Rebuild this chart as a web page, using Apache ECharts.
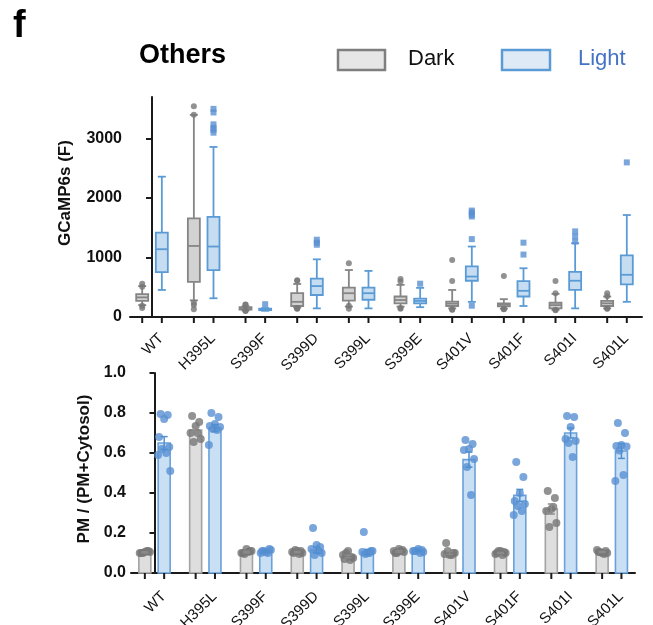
<!DOCTYPE html>
<html><head><meta charset="utf-8">
<script src="https://cdn.jsdelivr.net/npm/echarts@6.0.0/dist/echarts.min.js"></script>
<style>html,body{margin:0;padding:0;background:#fff}#main{width:653px;height:625px}</style>
</head><body><div id="main"></div>
<script>
// ---------- DATA ----------
var categories = ['WT','H395L','S399F','S399D','S399L','S399E','S401V','S401F','S401I','S401L'];

// Top panel: GCaMP6s (F) box plots [min, Q1, median, Q3, max]
var darkBox = [
  [200, 270, 330, 385, 520],
  [280, 590, 1195, 1660, 3400],
  [110, 125, 145, 165, 180],
  [160, 185, 255, 400, 555],
  [175, 275, 400, 495, 790],
  [175, 230, 285, 345, 540],
  [145, 185, 225, 260, 455],
  [140, 180, 205, 230, 300],
  [120, 145, 200, 240, 390],
  [145, 185, 230, 270, 345]
];
var lightBox = [
  [455, 755, 1140, 1420, 2360],
  [315, 790, 1185, 1685, 2860],
  [105, 115, 128, 140, 150],
  [145, 370, 520, 645, 970],
  [145, 290, 400, 495, 775],
  [165, 230, 270, 310, 490],
  [255, 610, 680, 850, 1185],
  [185, 345, 440, 605, 820],
  [145, 455, 610, 760, 1240],
  [255, 550, 710, 1035, 1715]
];
var darkOutliers = [
  [560, 510, 190, 150],
  [3545, 3400, 240, 200, 130],
  [205, 210, 105, 100],
  [610, 620, 145, 140, 150],
  [905, 190, 140],
  [640, 595, 150, 140],
  [960, 605, 120, 125],
  [690, 135, 130],
  [605, 400, 115, 120],
  [400, 350, 140, 145]
];
var lightOutliers = [
  [],
  [3500, 3440, 3240, 3180, 3150, 3100],
  [215],
  [1300, 1250, 1215],
  [],
  [560],
  [1790, 1760, 1720, 1690, 1310, 190],
  [1250, 1050],
  [1440, 1355, 1270],
  [2600]
];
var topTicks = [0, 1000, 2000, 3000];

// Bottom panel: PM / (PM+Cytosol), mean ± SEM with individual points
var darkMean = [0.103, 0.715, 0.105, 0.105, 0.083, 0.108, 0.100, 0.100, 0.320, 0.105];
var darkSem  = [0.003, 0.018, 0.004, 0.003, 0.006, 0.004, 0.007, 0.003, 0.025, 0.003];
var lightMean = [0.650, 0.725, 0.108, 0.115, 0.105, 0.112, 0.567, 0.388, 0.700, 0.610];
var lightSem  = [0.032, 0.017, 0.004, 0.015, 0.013, 0.003, 0.038, 0.030, 0.025, 0.037];
var darkDots = [
  [0.10, 0.11, 0.105, 0.10, 0.105, 0.10, 0.11],
  [0.785, 0.755, 0.735, 0.70, 0.67, 0.655, 0.70],
  [0.10, 0.11, 0.12, 0.10, 0.11, 0.095, 0.105],
  [0.10, 0.11, 0.11, 0.105, 0.10, 0.115, 0.095],
  [0.07, 0.08, 0.11, 0.09, 0.075, 0.10, 0.065],
  [0.10, 0.115, 0.12, 0.11, 0.105, 0.10, 0.11],
  [0.15, 0.10, 0.09, 0.095, 0.10, 0.11, 0.09],
  [0.10, 0.105, 0.11, 0.095, 0.10, 0.11, 0.09],
  [0.41, 0.375, 0.32, 0.31, 0.25, 0.23, 0.33],
  [0.105, 0.11, 0.10, 0.115, 0.10, 0.105, 0.095]
];
var lightDots = [
  [0.795, 0.79, 0.77, 0.68, 0.63, 0.62, 0.60, 0.59, 0.51],
  [0.80, 0.78, 0.745, 0.735, 0.73, 0.72, 0.715, 0.64],
  [0.11, 0.12, 0.105, 0.10, 0.115, 0.11, 0.10],
  [0.225, 0.13, 0.14, 0.12, 0.10, 0.09, 0.11],
  [0.205, 0.11, 0.10, 0.105, 0.11, 0.095, 0.10],
  [0.11, 0.115, 0.12, 0.11, 0.105, 0.11, 0.10],
  [0.665, 0.645, 0.62, 0.615, 0.57, 0.53, 0.39],
  [0.555, 0.48, 0.40, 0.36, 0.345, 0.335, 0.31, 0.29],
  [0.785, 0.78, 0.73, 0.67, 0.66, 0.65, 0.58],
  [0.75, 0.70, 0.64, 0.635, 0.633, 0.613, 0.49, 0.46]
];
var bottomTicks = [0, 0.2, 0.4, 0.6, 0.8, 1.0];

// ---------- STYLE ----------
var FONT = 'Liberation Sans, Arial, Helvetica, sans-serif';
var OFF = 0.19;           // offset of Dark / Light inside a group (axis units)
var JIT = [-0.07, 0.07, 0, -0.1, 0.1, -0.04, 0.04, -0.12, 0.12]; // dot spread pattern
var COL = {
  darkLine: '#858585', darkFill: '#d2d2d2', darkDot: '#777777',
  lightLine: '#5b9bd5', lightFill: '#c6dcf1', lightDot: '#5a90d2',
  barDarkLine: '#a3a3a3', barDarkFill: '#dedede',
  barLightLine: '#6aa1da', barLightFill: '#c9dff4'
};
var idx = categories.map(function (_, i) { return i; });

// ---------- BUILD ----------
function boxRender(color, fill) {
  return function (params, api) {
    var x = api.value(0);
    var c = function (v) { return api.coord([x, v]); };
    var pMin = c(api.value(1)), pQ1 = c(api.value(2)), pMed = c(api.value(3)),
        pQ3 = c(api.value(4)), pMax = c(api.value(5));
    var cx = pMin[0], hw = 6, cw = 4;
    var st = { stroke: color, lineWidth: 1.8, fill: null };
    return { type: 'group', children: [
      { type: 'line', shape: { x1: cx, y1: pMax[1], x2: cx, y2: pQ3[1] }, style: st },
      { type: 'line', shape: { x1: cx, y1: pQ1[1], x2: cx, y2: pMin[1] }, style: st },
      { type: 'line', shape: { x1: cx - cw, y1: pMax[1], x2: cx + cw, y2: pMax[1] }, style: st },
      { type: 'line', shape: { x1: cx - cw, y1: pMin[1], x2: cx + cw, y2: pMin[1] }, style: st },
      { type: 'rect', shape: { x: cx - hw, y: pQ3[1], width: 2 * hw, height: pQ1[1] - pQ3[1] },
        style: { fill: fill, stroke: color, lineWidth: 1.8 } },
      { type: 'line', shape: { x1: cx - hw, y1: pMed[1], x2: cx + hw, y2: pMed[1] }, style: st }
    ]};
  };
}
function barRender(color, fill) {
  return function (params, api) {
    var x = api.value(0);
    var p0 = api.coord([x, 0]), p1 = api.coord([x, api.value(1)]);
    var hw = 6;
    return { type: 'rect', shape: { x: p0[0] - hw, y: p1[1], width: 2 * hw, height: p0[1] - p1[1] },
      style: { fill: fill, stroke: color, lineWidth: 1.6 } };
  };
}
function errRender(color) {
  return function (params, api) {
    var x = api.value(0), m = api.value(1), s = api.value(2);
    var pt = api.coord([x, m + s]), pb = api.coord([x, m - s]);
    var cx = pt[0], cw = 3.5;
    var st = { stroke: color, lineWidth: 1.5, fill: null };
    return { type: 'group', children: [
      { type: 'line', shape: { x1: cx, y1: pt[1], x2: cx, y2: pb[1] }, style: st },
      { type: 'line', shape: { x1: cx - cw, y1: pt[1], x2: cx + cw, y2: pt[1] }, style: st },
      { type: 'line', shape: { x1: cx - cw, y1: pb[1], x2: cx + cw, y2: pb[1] }, style: st }
    ]};
  };
}
function tickRender(params, api) {
  var p = api.coord([api.value(0), 0]);
  return { type: 'line', shape: { x1: p[0], y1: p[1], x2: p[0], y2: p[1] + 6 },
    style: { stroke: '#1a1a1a', lineWidth: 2 } };
}
function boxData(arr, sign) { return arr.map(function (b, i) { return [i + sign * OFF].concat(b); }); }
function outData(arr, sign) {
  var out = [];
  arr.forEach(function (list, i) { list.forEach(function (v) { out.push([i + sign * OFF, v]); }); });
  return out;
}
function dotData(arr, sign) {
  var out = [];
  arr.forEach(function (list, i) { list.forEach(function (v, k) { out.push([i + sign * OFF + JIT[k % JIT.length], v]); }); });
  return out;
}
function barData(means, sems, sign) { return means.map(function (m, i) { return [i + sign * OFF, m, sems[i]]; }); }

var axisLineStyle = { color: '#1a1a1a', width: 2 };
var tickData = [];
idx.forEach(function (i) { tickData.push([i - OFF, 0], [i + OFF, 0]); });
function xAxisDef(gridIndex, min, max, margin) {
  return {
    type: 'value', gridIndex: gridIndex, min: min, max: max,
    axisLine: { show: true, onZero: false, lineStyle: axisLineStyle },
    axisTick: { show: false },
    axisLabel: { show: true, rotate: 45, fontSize: 15, color: '#111', fontFamily: FONT, margin: margin,
      verticalAlign: 'top', lineHeight: 26,
      customValues: idx, formatter: function (v) { return categories[Math.round(v)]; } },
    splitLine: { show: false }
  };
}
function yTitle(text, x, y) {
  return { type: 'text', x: x, y: y, rotation: Math.PI / 2,
    style: { text: text, font: 'bold 17px ' + FONT, fill: '#111', align: 'center', verticalAlign: 'middle' } };
}

var option = {
  backgroundColor: '#fff',
  animation: false,
  textStyle: { fontFamily: FONT },
  grid: [
    { left: 130, right: 11, top: 97, bottom: 308, outerBoundsMode: 'none', containLabel: false },
    { left: 131, right: 18, top: 373, bottom: 52, outerBoundsMode: 'none', containLabel: false }
  ],
  xAxis: [ xAxisDef(0, -0.426, 9.484, 10), xAxisDef(1, -0.4625, 9.457, 12) ],
  yAxis: [
    { type: 'value', gridIndex: 0, min: 0, max: 3700,
      axisLine: { show: true, lineStyle: axisLineStyle },
      axisTick: { show: true, length: 6, lineStyle: axisLineStyle, customValues: topTicks },
      axisLabel: { fontSize: 16, fontWeight: 'bold', color: '#111', fontFamily: FONT, margin: 8,
        customValues: topTicks, formatter: function (v) { return String(v); } },
      splitLine: { show: false } },
    { type: 'value', gridIndex: 1, min: 0, max: 1.0,
      axisLine: { show: true, lineStyle: axisLineStyle },
      axisTick: { show: true, length: 5, lineStyle: axisLineStyle, customValues: bottomTicks },
      axisLabel: { fontSize: 16, fontWeight: 'bold', color: '#111', fontFamily: FONT, margin: 5,
        customValues: bottomTicks, formatter: function (v) { return v.toFixed(1); } },
      splitLine: { show: false } }
  ],
  graphic: [
    { type: 'text', left: 13, top: 8, style: { text: 'f', font: 'bold 38px ' + FONT, fill: '#000' } },
    { type: 'text', left: 139, top: 42, style: { text: 'Others', font: 'bold 27px ' + FONT, fill: '#000' } },
    { type: 'rect', shape: { x: 338, y: 50, width: 47, height: 20 },
      style: { fill: '#e6e6e6', stroke: '#7f7f7f', lineWidth: 2.5 } },
    { type: 'text', left: 408, top: 48, style: { text: 'Dark', font: '22px ' + FONT, fill: '#111' } },
    { type: 'rect', shape: { x: 502, y: 50, width: 48, height: 20 },
      style: { fill: '#deebf7', stroke: '#5b9bd5', lineWidth: 2.5 } },
    { type: 'text', left: 578, top: 48, style: { text: 'Light', font: '22px ' + FONT, fill: '#4472c4' } },
    yTitle('GCaMP6s (F)', 65, 193),
    yTitle('PM / (PM+Cytosol)', 84.5, 469)
  ],
  series: [
    { name: 'Dark', type: 'custom', xAxisIndex: 0, yAxisIndex: 0, clip: false,
      renderItem: boxRender(COL.darkLine, COL.darkFill), encode: { x: 0, y: [1, 2, 3, 4, 5] },
      data: boxData(darkBox, -1), z: 2 },
    { name: 'Light', type: 'custom', xAxisIndex: 0, yAxisIndex: 0, clip: false,
      renderItem: boxRender(COL.lightLine, COL.lightFill), encode: { x: 0, y: [1, 2, 3, 4, 5] },
      data: boxData(lightBox, 1), z: 2 },
    { name: 'Dark outliers', type: 'scatter', xAxisIndex: 0, yAxisIndex: 0, symbol: 'circle', symbolSize: 6,
      itemStyle: { color: COL.darkDot }, data: outData(darkOutliers, -1), z: 3 },
    { name: 'Light outliers', type: 'scatter', xAxisIndex: 0, yAxisIndex: 0, symbol: 'rect', symbolSize: 6,
      itemStyle: { color: COL.lightDot }, data: outData(lightOutliers, 1), z: 3 },
    { name: 'Top ticks', type: 'custom', xAxisIndex: 0, yAxisIndex: 0, clip: false,
      renderItem: tickRender, encode: { x: 0, y: 1 }, data: tickData, z: 5, silent: true },

    { name: 'Dark bars', type: 'custom', xAxisIndex: 1, yAxisIndex: 1, clip: false,
      renderItem: barRender(COL.barDarkLine, COL.barDarkFill), encode: { x: 0, y: 1 },
      data: barData(darkMean, darkSem, -1), z: 2 },
    { name: 'Light bars', type: 'custom', xAxisIndex: 1, yAxisIndex: 1, clip: false,
      renderItem: barRender(COL.barLightLine, COL.barLightFill), encode: { x: 0, y: 1 },
      data: barData(lightMean, lightSem, 1), z: 2 },
    { name: 'Dark points', type: 'scatter', xAxisIndex: 1, yAxisIndex: 1, symbol: 'circle', symbolSize: 8,
      itemStyle: { color: COL.darkDot }, data: dotData(darkDots, -1), z: 3 },
    { name: 'Light points', type: 'scatter', xAxisIndex: 1, yAxisIndex: 1, symbol: 'circle', symbolSize: 8,
      itemStyle: { color: COL.lightDot }, data: dotData(lightDots, 1), z: 3 },
    { name: 'Dark SEM', type: 'custom', xAxisIndex: 1, yAxisIndex: 1, clip: false,
      renderItem: errRender('#8a8a8a'), encode: { x: 0, y: 1 },
      data: barData(darkMean, darkSem, -1), z: 4 },
    { name: 'Light SEM', type: 'custom', xAxisIndex: 1, yAxisIndex: 1, clip: false,
      renderItem: errRender('#4f8fd0'), encode: { x: 0, y: 1 },
      data: barData(lightMean, lightSem, 1), z: 4 },
    { name: 'Bottom ticks', type: 'custom', xAxisIndex: 1, yAxisIndex: 1, clip: false,
      renderItem: tickRender, encode: { x: 0, y: 1 }, data: tickData, z: 5, silent: true }
  ]
};
var chart = echarts.init(document.getElementById('main'));
chart.setOption(option);
</script>
</body></html>
